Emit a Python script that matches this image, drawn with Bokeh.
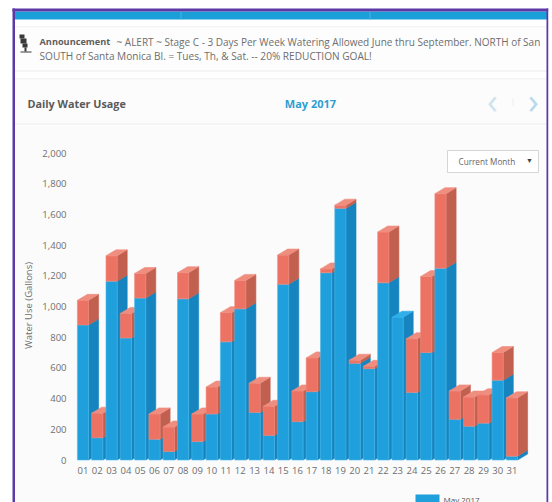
from math import pi

from bokeh.embed import file_html
from bokeh.models import BoxAnnotation, FixedTicker, Label, Range1d
from bokeh.plotting import figure
from bokeh.resources import INLINE

# Daily water use for May 2017, gallons: tier 1 (blue) and the running total (blue + red)
days = ["01", "02", "03", "04", "05", "06", "07", "08", "09", "10", "11", "12", "13", "14", "15", "16",
        "17", "18", "19", "20", "21", "22", "23", "24", "25", "26", "27", "28", "29", "30", "31"]
tier_one = [880, 145, 1165, 795, 1055, 135, 55, 1050, 120, 300, 770, 985, 310, 160, 1145, 250,
            445, 1220, 1640, 630, 595, 1155, 930, 440, 700, 1250, 265, 220, 240, 520, 25]
totals = [1040, 305, 1330, 955, 1215, 300, 215, 1220, 300, 475, 960, 1170, 500, 350, 1335, 450,
          665, 1245, 1660, 650, 610, 1485, 930, 790, 1195, 1735, 450, 410, 425, 700, 405]
y_ticks = [0, 200, 400, 600, 800, 1000, 1200, 1400, 1600, 1800, 2000]

FONT = "Open Sans"
W, H = 552, 502

# pixels per unit on each scale; the frame fills the whole canvas
PX_X, PX_Y = 14.3, 0.1535
X0, Y0 = 82.5, 459.5
BAR_HALF = 5.6 / PX_X
DEPTH_X = 10 / PX_X
DEPTH_Y = 6 / PX_Y

p = figure(width=W, height=H, output_backend="svg", toolbar_location=None,
           x_range=Range1d(-X0 / PX_X, (W - X0) / PX_X),
           y_range=Range1d((Y0 - H) / PX_Y, Y0 / PX_Y),
           min_border=0, background_fill_color="#ffffff",
           border_fill_color="#ffffff", outline_line_color=None)
p.grid.visible = False


def box(left, right, top, bottom, color, line=None, level="underlay"):
    p.add_layout(BoxAnnotation(left=left, right=right, top=top, bottom=bottom,
                               left_units="canvas", right_units="canvas",
                               top_units="canvas", bottom_units="canvas",
                               fill_color=color, fill_alpha=1, level=level,
                               line_color=line, line_width=1, line_alpha=1 if line else 0))


def label(x, y, text, size=9, color="#555555", style="normal", align="left", angle=0):
    p.add_layout(Label(x=x, y=y, x_units="canvas", y_units="canvas", text=text,
                       text_font=FONT, text_font_size=f"{size}px", text_color=color,
                       text_font_style=style, text_align=align, text_baseline="middle",
                       angle=angle, level="annotation"))


# Panel behind the bars
box(14, 547, 125, 502, "#fbfbfb")

xa = p.xaxis[0]
xa.fixed_location = 0
xa.ticker = FixedTicker(ticks=list(range(len(days))))
xa.major_label_overrides = {i: d for i, d in enumerate(days)}
ya = p.yaxis[0]
ya.fixed_location = (70 - X0) / PX_X
ya.ticker = FixedTicker(ticks=y_ticks)
ya.formatter.use_scientific = False
ya.major_label_overrides = {v: f"{v:,}" for v in y_ticks}
for ax in (xa, ya):
    ax.axis_line_color = None
    ax.major_tick_line_color = None
    ax.minor_tick_line_color = None
    ax.major_tick_out = 0
    ax.major_tick_in = 0
    ax.major_label_text_font = FONT
    ax.major_label_text_font_size = "9.5px"
    ax.major_label_text_color = "#6e6e6e"
xa.major_label_standoff = 7
ya.major_label_standoff = 4
label(28, 305, "Water Use (Gallons)", 9.5, "#6e6e6e", "normal", "center", pi / 2)

COLORS = {"blue": ("#1f9fdc", "#1684bf", "#2fb0ea", "#4cb8ea"),
          "red": ("#ec7264", "#c1604f", "#ef8d7f", "#f08a7c")}
xs, ys, fills, strokes = [], [], [], []


def add_face(px, py, fill, stroke):
    xs.append(px)
    ys.append(py)
    fills.append(fill)
    strokes.append(stroke)


def add_segment(i, low, high, tone, cap):
    front, side, top, edge = COLORS[tone]
    l, r = i - BAR_HALF, i + BAR_HALF
    add_face([r, r + DEPTH_X, r + DEPTH_X, r],
             [low, low + DEPTH_Y, high + DEPTH_Y, high], side, side)
    add_face([l, r, r, l], [low, low, high, high], front, edge)
    if cap:
        add_face([l, r, r + DEPTH_X, l + DEPTH_X],
                 [high, high, high + DEPTH_Y, high + DEPTH_Y], top, top)


# Bars run left to right, so each one overlaps the side face of its neighbour
for i, (blue, total) in enumerate(zip(tier_one, totals)):
    has_red = total > blue
    add_segment(i, 0, blue, "blue", not has_red)
    if has_red:
        add_segment(i, blue, total, "red", True)

p.patches(xs, ys, fill_color=fills, line_color=strokes, line_width=0.6)

# Page chrome around the chart
box(14, 547, 11, 19, "#1a9fd8")
box(14, 547, 26, 27, "#ececec")
box(14, 547, 27, 70, "#fdfdfd")
box(14, 547, 70, 71, "#ececec")
box(14, 547, 78, 79, "#ececec")
box(14, 547, 79, 123, "#fcfcfc")
box(14, 547, 123, 124, "#ececec")
box(180, 181, 11, 19, "#4fb4e2")
box(369, 370, 11, 19, "#4fb4e2")

# Microphone icon
box(19, 24, 34, 38, "#3a3a3a", level="annotation")
box(20, 26, 38, 43, "#3a3a3a", level="annotation")
box(22, 27, 43, 47, "#3a3a3a", level="annotation")
box(24, 26, 47, 51, "#3a3a3a", level="annotation")
box(20, 31, 51, 52, "#3a3a3a", level="annotation")

label(39, 41, "Announcement", 9.2, "#5f5f5f", "bold")
label(116, 41, "~ ALERT ~ Stage C - 3 Days Per Week Watering Allowed June thru September. NORTH of San", 10, "#6e6e6e")
label(39, 55, "SOUTH of Santa Monica Bl. = Tues, Th, & Sat. -- 20% REDUCTION GOAL!", 10.1, "#6e6e6e")
label(27, 103, "Daily Water Usage", 10.8, "#5a5a5a", "bold")
label(310, 103, "May 2017", 11, "#2c9fd2", "bold", "center")
label(492, 100, "‹", 36, "#cfe3ef", "normal", "center")
label(533, 100, "›", 36, "#b8d9ec", "normal", "center")
box(512, 513, 98, 106, "#eeeeee")

# Period selector
box(447, 538, 150, 172, "#ffffff", "#d6d6d6", level="annotation")
label(458, 161, "Current Month", 8.2, "#666666")
label(529, 160, "▼", 7, "#444444", "normal", "center")

# Legend, running off the bottom edge
box(415, 439, 494, 502, "#1f9fdc", level="annotation")
label(443, 499, "May 2017", 8, "#555555")

# Frame of the embedded page
box(12, 548, 8, 11, "#5b3aa8", level="annotation")
box(12, 14.5, 8, 502, "#5b3aa8", level="annotation")
box(546, 548, 8, 502, "#5b3aa8", level="annotation")
box(548, 552, 0, 502, "#ffffff", level="annotation")

open("out.html", "w").write(file_html(p, INLINE))
